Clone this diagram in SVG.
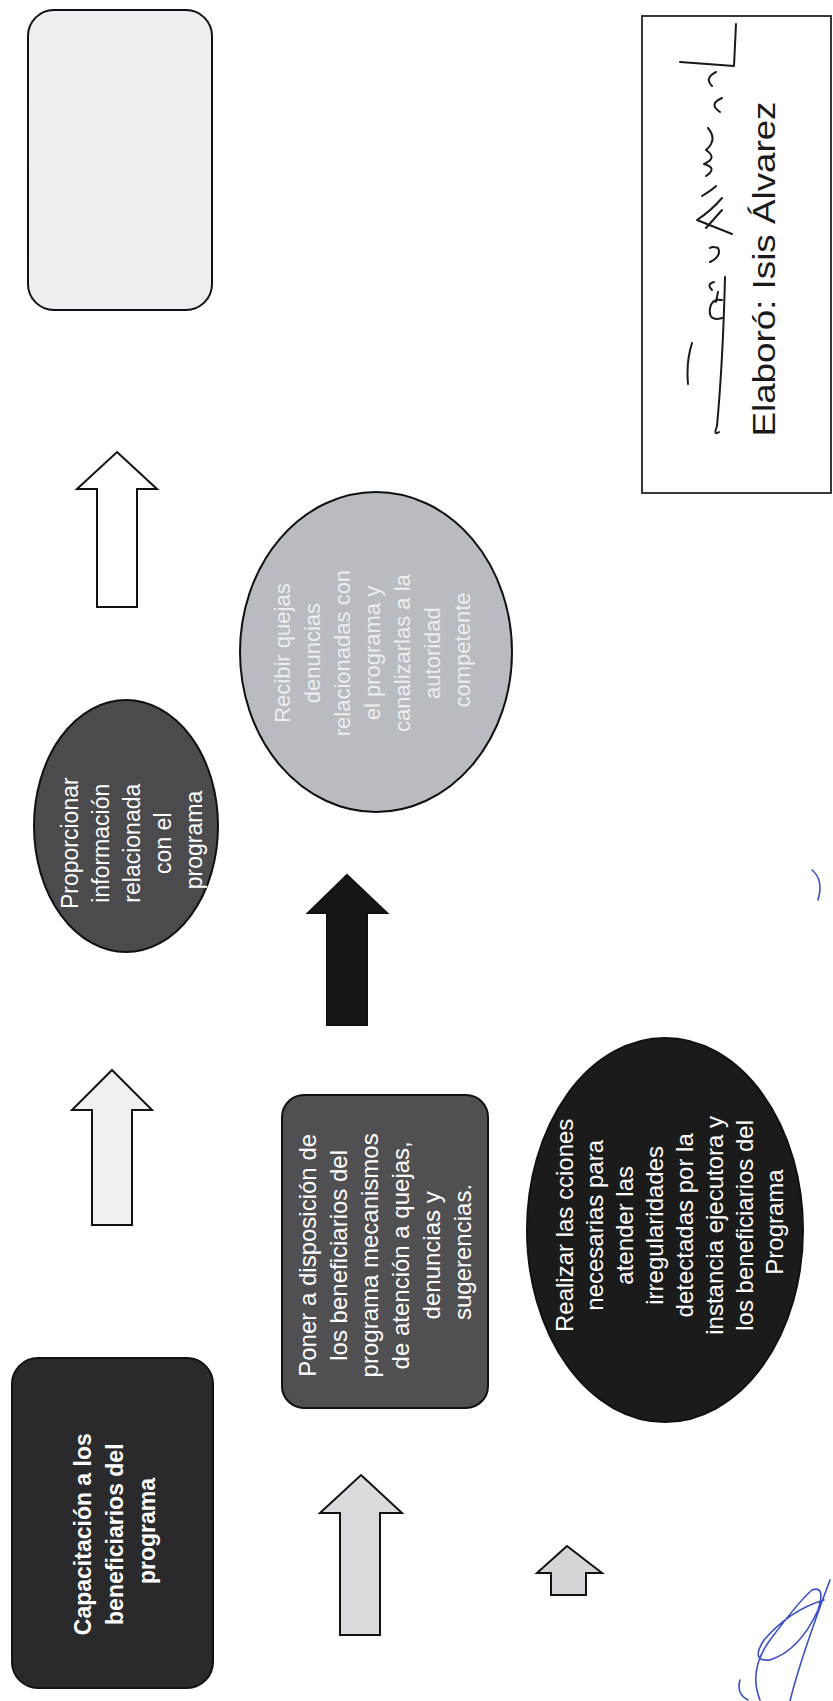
<svg xmlns="http://www.w3.org/2000/svg" width="833" height="1701" viewBox="0 0 833 1701">
<defs>
<style>
.lbl{font-family:"Liberation Sans",Arial,sans-serif;font-size:24px;fill:#ffffff;text-anchor:middle}
.bold{font-weight:bold}
.node{stroke:#111;stroke-width:2}
.arrow{stroke:#111;stroke-width:2;stroke-linejoin:miter}
.sig{fill:none;stroke:#1a1a1a;stroke-width:2;stroke-linecap:round;stroke-linejoin:round}
.blue{fill:none;stroke:#3a4fc4;stroke-width:1.6;stroke-linecap:round}
</style>
</defs>
<rect width="833" height="1701" fill="#ffffff"/>

<g id="node-seguimiento">
<rect class="node" x="28" y="10" width="184" height="300" rx="26" fill="#eceef1"/>
</g>

<g id="node-proporcionar">
<ellipse class="node" cx="126" cy="826" rx="92" ry="126" fill="#4b4b4e"/>
<text class="lbl" style="font-size:23px" transform="translate(127,840) rotate(-90)">
<tspan x="0" y="-49">Proporcionar</tspan>
<tspan x="0" y="-18">información</tspan>
<tspan x="0" y="13">relacionada</tspan>
<tspan x="0" y="44">con el</tspan>
<tspan x="0" y="75">programa</tspan>
</text>
</g>

<g id="node-recibir">
<ellipse class="node" cx="376" cy="652" rx="136" ry="160" fill="#b8bbbf"/>
<text class="lbl" style="font-size:22px;fill:#eceef0" transform="translate(376,650) rotate(-90)">
<tspan x="0" y="-86">Recibir quejas</tspan>
<tspan x="0" y="-56">denuncias</tspan>
<tspan x="0" y="-26">relacionadas con</tspan>
<tspan x="0" y="4">el programa y</tspan>
<tspan x="0" y="34">canalizarlas a la</tspan>
<tspan x="0" y="64">autoridad</tspan>
<tspan x="0" y="94">competente</tspan>
</text>
</g>

<g id="node-poner">
<rect class="node" x="282" y="1095" width="206" height="313" rx="22" fill="#505053"/>
<text class="lbl" transform="translate(385,1252) rotate(-90)">
<tspan x="0" y="-69">Poner a disposición de</tspan>
<tspan x="0" y="-38">los beneficiarios del</tspan>
<tspan x="0" y="-7">programa mecanismos</tspan>
<tspan x="0" y="24">de atención a quejas,</tspan>
<tspan x="0" y="55">denuncias y</tspan>
<tspan x="0" y="86">sugerencias.</tspan>
</text>
</g>

<g id="node-realizar">
<ellipse class="node" cx="665" cy="1230" rx="138" ry="192" fill="#1b1b1c"/>
<text class="lbl" transform="translate(670,1222) rotate(-90)">
<tspan x="0" y="-97">Realizar las cciones</tspan>
<tspan x="0" y="-67">necesarias para</tspan>
<tspan x="0" y="-37">atender las</tspan>
<tspan x="0" y="-7">irregularidades</tspan>
<tspan x="0" y="23">detectadas por la</tspan>
<tspan x="0" y="53">instancia ejecutora y</tspan>
<tspan x="0" y="83">los beneficiarios del</tspan>
<tspan x="0" y="113">Programa</tspan>
</text>
</g>

<g id="node-capacitacion">
<rect class="node" x="12" y="1358" width="201" height="330" rx="26" fill="#2a2a2c"/>
<text class="lbl bold" style="font-size:23px" transform="translate(112,1531) rotate(-90)">
<tspan x="0" y="-21">Capacitación a los</tspan>
<tspan x="0" y="11">beneficiarios del</tspan>
<tspan x="0" y="43">programa</tspan>
</text>
</g>

<g id="connectors">
<polygon class="arrow" fill="#ffffff" points="117,452 157,489 137,489 137,607 97,607 97,489 77,489"/>
<polygon class="arrow" fill="#eef0f3" points="112,1070 152,1110 132,1110 132,1225 92,1225 92,1110 72,1110"/>
<polygon class="arrow" fill="#161617" points="347,875 387,913 367,913 367,1025 327,1025 327,913 308,913"/>
<polygon class="arrow" fill="#d9dbde" points="361,1475 402,1513 380,1513 380,1635 340,1635 340,1513 320,1513"/>
<polygon class="arrow" fill="#d3d5d8" points="567,1546 602,1573 586,1573 586,1595 551,1595 551,1573 537,1573"/>
</g>

<g id="credit">
<rect x="642" y="16" width="189" height="477" fill="none" stroke="#222" stroke-width="1.8"/>
<text style="font-family:'Liberation Sans',Arial,sans-serif;font-size:32px;fill:#1a1a1a;text-anchor:middle" transform="translate(764,269) rotate(-90)" y="11" textLength="335" lengthAdjust="spacingAndGlyphs">Elaboró: Isis Álvarez</text>
<path class="sig" d="M688,384 Q686,362 692,343 M719,432 Q713,436 717,426 Q723,360 725,277 M722,318 Q708,322 710,308 Q712,298 722,300 M716,302 L718,292 M712,290 Q706,284 714,282 M710,262 Q722,256 718,248 Q712,246 710,248 M732,234 Q712,226 697,220 Q712,210 722,198 M706,228 L722,210 M702,196 Q712,190 716,186 M706,176 Q718,168 704,164 Q718,158 706,150 Q718,140 708,128 M720,112 Q708,104 722,98 M712,86 Q704,78 716,72 M680,62 L734,66 L736,24"/>
</g>

<g id="blue-marks">
<path class="blue" d="M760,1700 Q748,1670 770,1640 Q800,1600 812,1590 Q826,1585 818,1610 Q800,1650 770,1660 Q750,1662 764,1640 Q790,1610 824,1600 M790,1701 Q800,1660 830,1580 M740,1680 Q736,1694 748,1700"/>
<path class="blue" d="M812,870 Q824,880 818,900"/>
</g>
</svg>
